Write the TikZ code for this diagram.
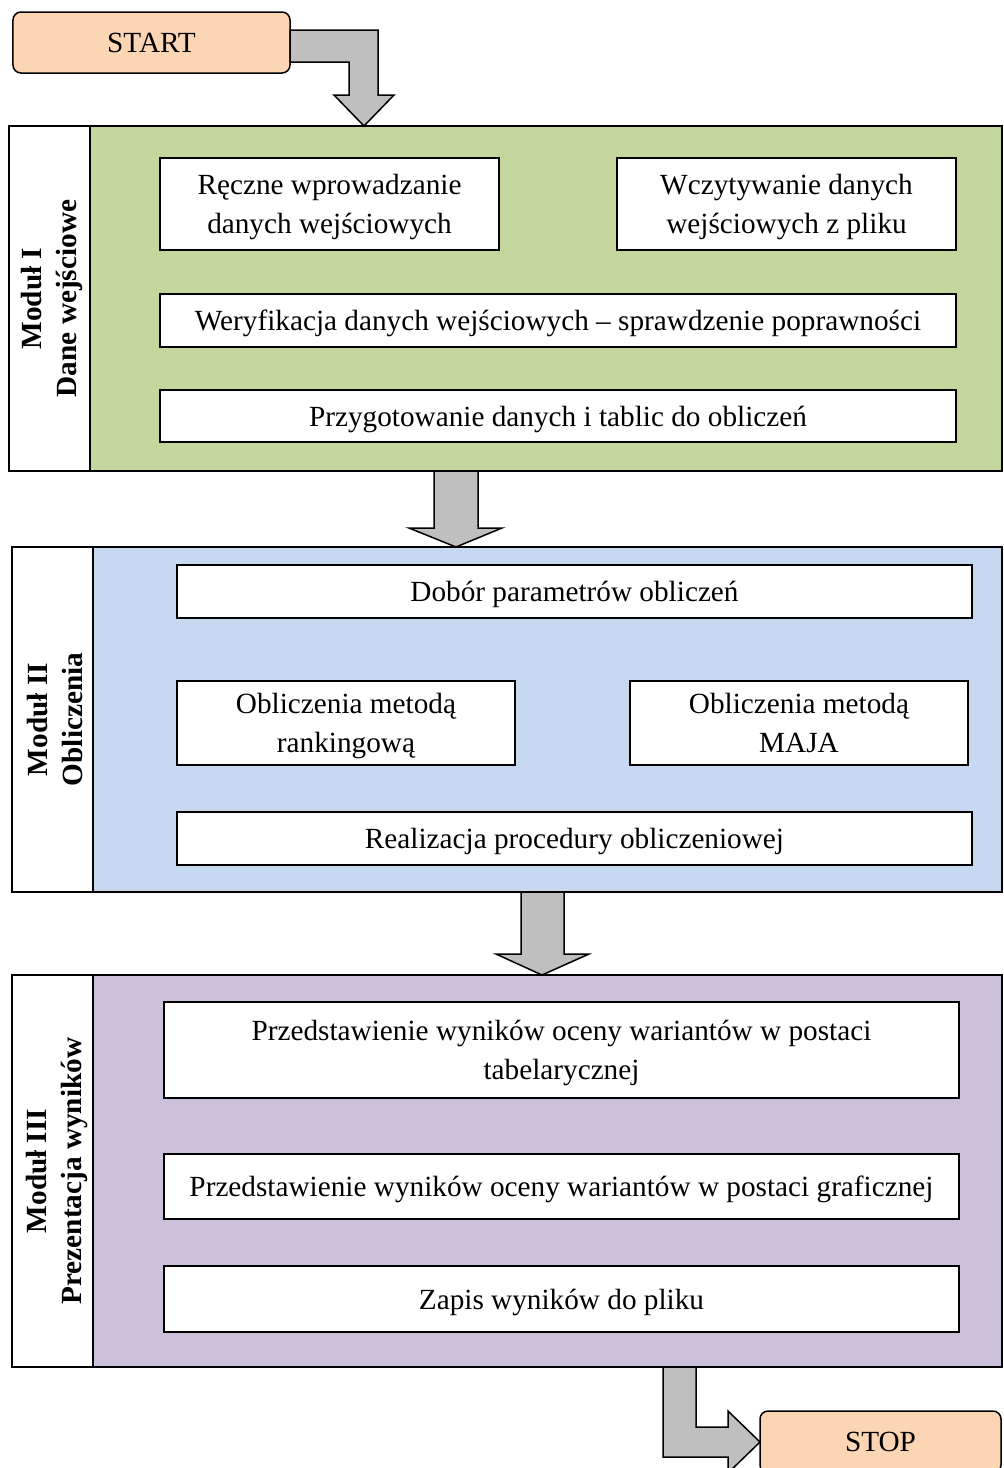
\documentclass[tikz,border=0pt]{standalone}
\usepackage{fontspec}
\setmainfont{Liberation Serif}
\definecolor{termfill}{HTML}{FCD5B5}
\definecolor{mAfill}{HTML}{C3D69B}
\definecolor{mBfill}{HTML}{C6D9F1}
\definecolor{mCfill}{HTML}{CCC1DA}
\definecolor{arrowfill}{HTML}{BFBFBF}
\begin{document}
\begin{tikzpicture}[x=0.4pt,y=-0.4pt,
  txt/.style={font=\fontsize{11.7}{15.4}\selectfont, align=center, inner sep=0pt, text depth=0pt},
  inbox/.style={txt, draw=black, line width=0.6pt, fill=white},
  module/.style={draw=black, line width=0.8pt, inner sep=0pt},
  strip/.style={draw=black, line width=0.8pt, fill=white, inner sep=0pt},
  term/.style={txt, draw=black, line width=0.6pt, fill=termfill, rounded corners=3.2pt},
  blockarrow/.style={draw=black, line width=0.6pt, fill=arrowfill, line join=miter},
  modlabel/.style={font=\bfseries\fontsize{11.7}{14}\selectfont, align=center, rotate=90, inner sep=0pt}]
\useasboundingbox (0,0) rectangle (1003,1468);

% START
\node[term, minimum width=110.8pt, minimum height=24.4pt] (start) at (151.5,42.5) {START};

% Module I
\node[module, fill=mAfill, minimum width=397.2pt, minimum height=138pt] (m1) at (505.5,298.5) {};
\node[strip, minimum width=32.4pt, minimum height=138pt] (s1) at (49.5,298.5) {};
\node[modlabel] (l1) at (52,298.5) {Moduł I\\Dane wejściowe};
\node[inbox, minimum width=135.6pt, minimum height=36.8pt] (a1) at (329.5,204) {Ręczne wprowadzanie\\danych wejściowych};
\node[inbox, minimum width=135.6pt, minimum height=36.8pt] (a2) at (786.5,204) {Wczytywanie danych\\wejściowych z pliku};
\node[inbox, minimum width=318.4pt, minimum height=21.2pt] (a3) at (558,320.5) {Weryfikacja danych wejściowych – sprawdzenie poprawności};
\node[inbox, minimum width=318.4pt, minimum height=20.8pt] (a4) at (558,416) {Przygotowanie danych i tablic do obliczeń};

% Module II
\node[module, fill=mBfill, minimum width=396pt, minimum height=138pt] (m2) at (507,719.5) {};
\node[strip, minimum width=32.4pt, minimum height=138pt] (s2) at (52.5,719.5) {};
\node[modlabel] (l2) at (55,719.5) {Moduł II\\Obliczenia};
\node[inbox, minimum width=318pt, minimum height=21.2pt] (b1) at (574.5,591.5) {Dobór parametrów obliczeń};
\node[inbox, minimum width=135.2pt, minimum height=33.6pt] (b2) at (346,723) {Obliczenia metodą\\rankingową};
\node[inbox, minimum width=135.2pt, minimum height=33.6pt] (b3) at (799,723) {Obliczenia metodą\\MAJA};
\node[inbox, minimum width=318pt, minimum height=21.2pt] (b4) at (574.5,838.5) {Realizacja procedury obliczeniowej};

% Module III
\node[module, fill=mCfill, minimum width=396pt, minimum height=156.8pt] (m3) at (507,1171) {};
\node[strip, minimum width=32.4pt, minimum height=156.8pt] (s3) at (52.5,1171) {};
\node[modlabel] (l3) at (57,1171) {Moduł III\\Prezentacja wyników};
\node[inbox, minimum width=318pt, minimum height=38.4pt] (c1) at (561.5,1050) {Przedstawienie wyników oceny wariantów w postaci\\tabelarycznej};
\node[inbox, minimum width=318pt, minimum height=26pt] (c2) at (561.5,1186.5) {Przedstawienie wyników oceny wariantów w postaci graficznej};
\node[inbox, minimum width=318pt, minimum height=26.4pt] (c3) at (561.5,1299) {Zapis wyników do pliku};

% STOP
\node[term, minimum width=96.4pt, minimum height=24.8pt] (stop) at (880.5,1442) {STOP};

% block arrows
\draw[blockarrow] (290,30) -- (378,30) -- (378,95) -- (394,95) -- (364,126)
  -- (334,95) -- (349,95) -- (349,62) -- (290,62) -- cycle;
\draw[blockarrow] (434,471) -- (478,471) -- (478,528) -- (502,528) -- (456,547)
  -- (409,528) -- (434,528) -- cycle;
\draw[blockarrow] (521,892) -- (564,892) -- (564,954) -- (589,954) -- (542,975)
  -- (496,954) -- (521,954) -- cycle;
\draw[blockarrow] (663,1367) -- (696,1367) -- (696,1427) -- (728,1427) -- (728,1411)
  -- (760,1442) -- (728,1473) -- (728,1457) -- (663,1457) -- cycle;
\end{tikzpicture}
\end{document}
